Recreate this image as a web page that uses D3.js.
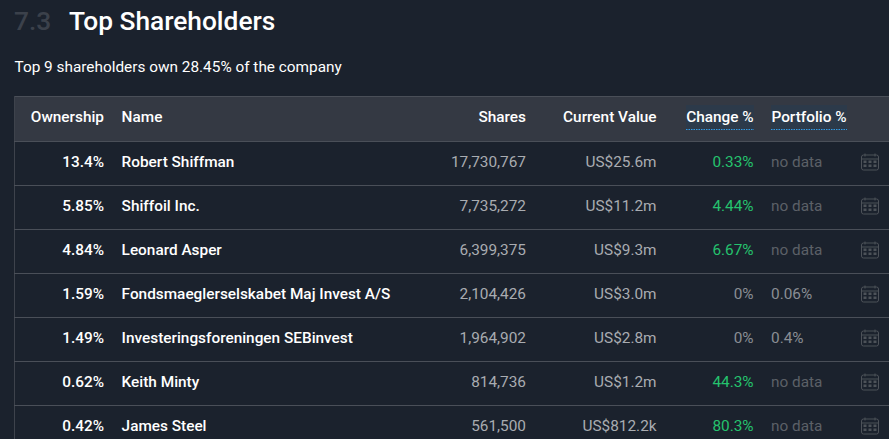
<!DOCTYPE html>
<html>
<head>
<meta charset="utf-8">
<script src="https://cdn.jsdelivr.net/npm/d3@7"></script>
<style>
  html, body { margin: 0; padding: 0; background: #1b222d; overflow: hidden; }
  svg { display: block; }
  text { font-family: Roboto, sans-serif; }
</style>
</head>
<body>
<svg id="chart"></svg>
<script>
const columns = ["Ownership", "Name", "Shares", "Current Value", "Change %", "Portfolio %"]
const ownership = ["13.4%", "5.85%", "4.84%", "1.59%", "1.49%", "0.62%", "0.42%"]
const names = ["Robert Shiffman", "Shiffoil Inc.", "Leonard Asper", "Fondsmaeglerselskabet Maj Invest A/S", "Investeringsforeningen SEBinvest", "Keith Minty", "James Steel"]
const shares = ["17,730,767", "7,735,272", "6,399,375", "2,104,426", "1,964,902", "814,736", "561,500"]
const currentValue = ["US$25.6m", "US$11.2m", "US$9.3m", "US$3.0m", "US$2.8m", "US$1.2m", "US$812.2k"]
const change = ["0.33%", "4.44%", "6.67%", "0%", "0%", "44.3%", "80.3%"]
const portfolio = ["no data", "no data", "no data", "0.06%", "0.4%", "no data", "no data"]

const width = 889, height = 439
const bodySize = "15.36px"
const svg = d3.select("#chart").attr("width", width).attr("height", height)

const y = d3.scaleBand().domain(d3.range(names.length)).range([141, 449])
const colX = { own: 104, name: 121.6, shares: 526, value: 656.6, change: 753.6, portfolio: 771, icon: 870 }

// heading
svg.append("text").attr("x", 14).attr("y", 30).attr("fill", "#3b414b")
    .style("font-size", "26.3px").style("font-weight", 500).text("7.3")
svg.append("text").attr("x", 69).attr("y", 30).attr("fill", "#ffffff")
    .style("font-size", "26.3px").style("font-weight", 500).text("Top Shareholders")
svg.append("text").attr("x", 14.5).attr("y", 72).attr("fill", "#ffffff")
    .style("font-size", bodySize).text("Top 9 shareholders own 28.45% of the company")

// header band
svg.append("rect").attr("x", 14).attr("y", 96).attr("width", width - 14).attr("height", 45).attr("fill", "#343943")
svg.append("line").attr("x1", 14).attr("x2", width).attr("y1", 96.5).attr("y2", 96.5).attr("stroke", "#4a4f58")

const headers = [
    { text: columns[0], x: colX.own, anchor: "end" },
    { text: columns[1], x: colX.name, anchor: "start" },
    { text: columns[2], x: colX.shares, anchor: "end" },
    { text: columns[3], x: colX.value, anchor: "end" },
]
svg.append("g").selectAll("text").data(headers).join("text")
    .attr("x", d => d.x).attr("y", 122)
    .attr("text-anchor", d => d.anchor)
    .attr("fill", "#ffffff")
    .style("font-size", bodySize).style("font-weight", 500)
    .text(d => d.text)

// the two dotted-underline headers
const tips = [
    { text: columns[4], x0: 686, x1: 754 },
    { text: columns[5], x0: 771, x1: 847 },
]
const tip = svg.append("g").selectAll("g").data(tips).join("g")
tip.append("rect").attr("x", d => d.x0).attr("y", 105).attr("width", d => d.x1 - d.x0).attr("height", 24).attr("fill", "#2c3a4a")
tip.append("line").attr("x1", d => d.x0).attr("x2", d => d.x1).attr("y1", 129.5).attr("y2", 129.5)
    .attr("stroke", "#2f9be8").attr("stroke-dasharray", "1.5 1")
tip.append("text").attr("x", d => d.x1 - 0.4).attr("y", 122).attr("text-anchor", "end")
    .attr("fill", "#ffffff").style("font-size", bodySize).style("font-weight", 500).text(d => d.text)

// left edge and row rules
svg.append("line").attr("x1", 14.5).attr("x2", 14.5).attr("y1", 96).attr("y2", height).attr("stroke", "#3e434c")
svg.append("g").selectAll("line").data(d3.range(names.length)).join("line")
    .attr("x1", 14).attr("x2", width)
    .attr("y1", d => y(d) + 0.5).attr("y2", d => y(d) + 0.5)
    .attr("stroke", "#4a4f58")

const rows = svg.append("g").selectAll("g").data(d3.range(names.length)).join("g")
    .attr("transform", d => `translate(0,${y(d) + 25.5})`)

const cell = (x, anchor, fill, weight, values) => rows.append("text")
    .attr("x", x).attr("text-anchor", anchor).attr("fill", fill)
    .style("font-size", bodySize).style("font-weight", weight)
    .text(d => values[d])

cell(colX.own, "end", "#ffffff", 500, ownership)
cell(colX.name, "start", "#ffffff", 500, names)
cell(colX.shares, "end", "#a9acb1", 400, shares)
cell(colX.value, "end", "#a9acb1", 400, currentValue)

rows.append("text").attr("x", colX.change).attr("text-anchor", "end")
    .attr("fill", d => change[d] === "0%" ? "#8a8e94" : "#25c26e")
    .style("font-size", bodySize)
    .text(d => change[d])
rows.append("text").attr("x", colX.portfolio)
    .attr("fill", d => portfolio[d] === "no data" ? "#5c6067" : "#8a8e94")
    .style("font-size", bodySize)
    .text(d => portfolio[d])

// calendar icon
const icon = rows.append("g").attr("transform", `translate(${colX.icon},-4)`).attr("fill", "none").attr("stroke", "#4d5259")
icon.append("rect").attr("x", -8.5).attr("y", -7.5).attr("width", 17).attr("height", 15).attr("rx", 2)
icon.append("line").attr("x1", -8).attr("x2", 8).attr("y1", -3.5).attr("y2", -3.5)
icon.selectAll("line.peg").data([-5, 5]).join("line").attr("class", "peg")
    .attr("x1", d => d).attr("x2", d => d).attr("y1", -9).attr("y2", -6)
icon.selectAll("rect.dot").data(d3.cross([-5, 0, 5], [-1, 3])).join("rect").attr("class", "dot")
    .attr("x", d => d[0] - 1.5).attr("y", d => d[1] - 1).attr("width", 3).attr("height", 2.5)
    .attr("fill", "#4d5259").attr("stroke", "none")
</script>
</body>
</html>
